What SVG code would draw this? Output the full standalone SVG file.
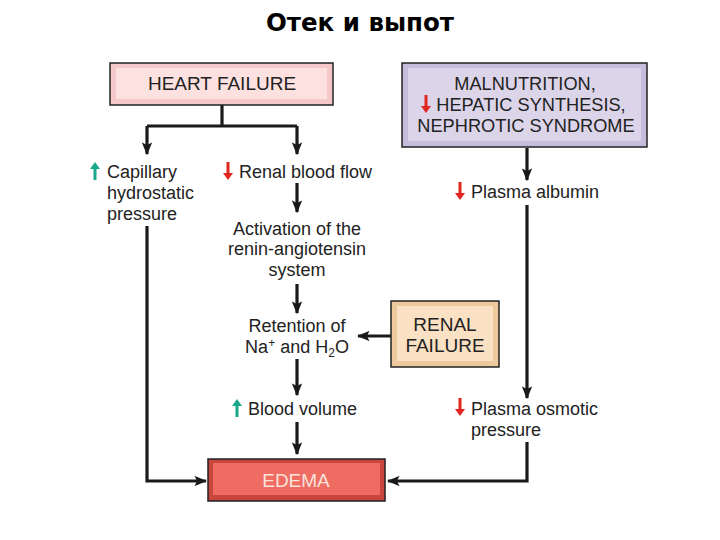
<svg xmlns="http://www.w3.org/2000/svg" width="720" height="540" viewBox="0 0 720 540">
<style>
.t{font-family:"Liberation Sans",Arial,sans-serif;font-size:18px;fill:#222}
.b{font-size:19px}
.m{font-size:18.2px}
.c{text-anchor:middle}
.ln{stroke:#1a1a1a;stroke-width:3.2;fill:none}
.box{stroke:#222;stroke-width:1.5}
</style>
<defs>
<marker id="ah" viewBox="0 0 10 10" refX="9" refY="5" markerWidth="4" markerHeight="3.2" orient="auto" markerUnits="strokeWidth" preserveAspectRatio="none">
<path d="M0,0 L10,5 L0,10 L2,5 z" fill="#1a1a1a"/>
</marker>
<g id="up"><path d="M0,-9 L-5,-2 L-1.5,-2 L-1.5,9 L1.5,9 L1.5,-2 L5,-2 z" fill="#1aa88a"/></g>
<g id="dn"><path d="M0,9 L-5,2 L-1.5,2 L-1.5,-9 L1.5,-9 L1.5,2 L5,2 z" fill="#e0261f"/></g>
</defs>
<rect width="720" height="540" fill="#fff"/>
<text x="360" y="31" class="c" style="font-family:'DejaVu Sans',Verdana,sans-serif;font-weight:bold;font-size:24.5px;fill:#000">Отек и выпот</text>

<g id="connectors">
<path class="ln" d="M222,105 V126 M147,126 H297"/>
<path class="ln" d="M147,126 V154" marker-end="url(#ah)"/>
<path class="ln" d="M297,126 V154" marker-end="url(#ah)"/>
<path class="ln" d="M297,183 V212" marker-end="url(#ah)"/>
<path class="ln" d="M297,284 V313" marker-end="url(#ah)"/>
<path class="ln" d="M391,336 H358" marker-end="url(#ah)"/>
<path class="ln" d="M297,359 V395" marker-end="url(#ah)"/>
<path class="ln" d="M297,422 V454" marker-end="url(#ah)"/>
<path class="ln" d="M147,226 V481 H206" marker-end="url(#ah)"/>
<path class="ln" d="M527,148 V180" marker-end="url(#ah)"/>
<path class="ln" d="M527,205 V398" marker-end="url(#ah)"/>
<path class="ln" d="M527,442 V481 H388" marker-end="url(#ah)"/>
</g>

<g id="heart-failure">
<rect class="box" x="110" y="63" width="223" height="42" fill="#f5c9ca"/>
<rect x="116" y="68" width="211" height="31" fill="#fde1e1"/>
<text x="222" y="90" class="t b c">HEART FAILURE</text>
</g>

<g id="malnutrition">
<rect class="box" x="402" y="63" width="245" height="84" fill="#c6bcdb"/>
<rect x="408" y="68" width="233" height="73" fill="#dcd5ea"/>
<text x="525" y="90" class="t m c">MALNUTRITION,</text>
<use href="#dn" x="426" y="104"/>
<text x="531" y="111" class="t m c">HEPATIC SYNTHESIS,</text>
<text x="526" y="132" class="t m c">NEPHROTIC SYNDROME</text>
</g>

<g id="capillary">
<use href="#up" x="95" y="171"/>
<text x="107" y="178" class="t">Capillary</text>
<text x="107" y="199" class="t">hydrostatic</text>
<text x="107" y="220" class="t">pressure</text>
</g>

<g id="renal-blood-flow">
<use href="#dn" x="228" y="171"/>
<text x="239" y="178" class="t">Renal blood flow</text>
</g>

<g id="renin">
<text x="297" y="235" class="t c">Activation of the</text>
<text x="297" y="255" class="t c">renin-angiotensin</text>
<text x="297" y="276" class="t c">system</text>
</g>

<g id="retention">
<text x="297" y="332" class="t c">Retention of</text>
<text x="297" y="353" class="t c">Na<tspan dy="-6" font-size="12">+</tspan><tspan dy="6"> and H</tspan><tspan dy="4" font-size="12">2</tspan><tspan dy="-4">O</tspan></text>
</g>

<g id="renal-failure">
<rect class="box" x="391" y="301" width="108" height="66" fill="#efc99e"/>
<rect x="397" y="306" width="96" height="55" fill="#fbe1c4"/>
<text x="445" y="331" class="t b c">RENAL</text>
<text x="445" y="352" class="t b c">FAILURE</text>
</g>

<g id="blood-volume">
<use href="#up" x="237" y="408"/>
<text x="248" y="415" class="t">Blood volume</text>
</g>

<g id="plasma-albumin">
<use href="#dn" x="460" y="191"/>
<text x="471" y="198" class="t">Plasma albumin</text>
</g>

<g id="plasma-osmotic">
<use href="#dn" x="460" y="407"/>
<text x="471" y="415" class="t">Plasma osmotic</text>
<text x="471" y="436" class="t">pressure</text>
</g>

<g id="edema">
<rect class="box" x="208" y="459" width="177" height="42" fill="#c9463c"/>
<rect x="213" y="463" width="167" height="32" fill="#ee6c61"/>
<text x="296" y="487" class="t b c" style="fill:#fbe3dc">EDEMA</text>
</g>
</svg>
